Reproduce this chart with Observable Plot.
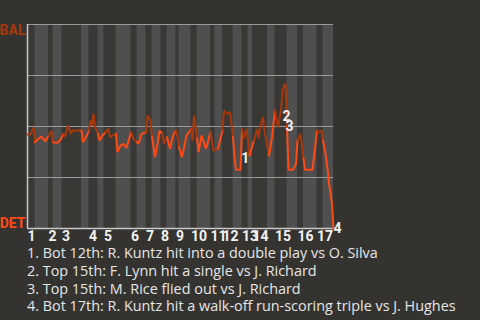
<!DOCTYPE html>
<html>
<head>
<meta charset="utf-8">
<script src="https://cdn.jsdelivr.net/npm/d3@7"></script>
<script src="https://cdn.jsdelivr.net/npm/@observablehq/plot@0.6"></script>
<style>
  html, body { margin: 0; padding: 0; background: #353330; }
  body { width: 480px; height: 320px; overflow: hidden; }
  #caption { font-family: "Open Sans", sans-serif; font-size: 14.4px; line-height: 17.8px; color: #e6e6e6; padding-left: 27px; margin-top: -2px; white-space: nowrap; }
</style>
</head>
<body>
<div id="chart"></div>
<div id="caption"></div>
<script>
// play index along the game and BAL win probability after each play
const plays = [0,2,4,5,9,12,14,16,17,20,22,24,25,27,29,30,36,37,39,41,
  42,43,44,45,47,48,50,52,54,55,59,60,62,64,66,69,71,73,74,76,
  79,80,82,83,85,87,88,90,91,93,95,97,99,100,101,103,106,109,110,111,
  113,114,116,119,122,124,127,130,131,133,135,137,138,139,141,142,143,144,146,148,
  151,153,154,155,157,158,161,163,165,167,169,170,171,172,173,174,177,179,180,182,
  184,185,190,191,193,194,196,197,199,200,201,203,204];
const balWinProb = [.461,.461,.494,.423,.451,.428,.456,.477,.423,.420,.435,.464,.451,.505,.464,.480,.480,.423,.448,.480,
  .529,.505,.562,.496,.464,.431,.456,.472,.489,.448,.464,.374,.407,.415,.395,.472,.435,.423,.415,.464,
  .472,.554,.529,.448,.350,.431,.480,.464,.415,.448,.391,.456,.480,.448,.398,.350,.456,.488,.431,.554,
  .441,.374,.456,.391,.472,.382,.391,.480,.578,.562,.570,.448,.350,.288,.288,.288,.488,.441,.488,.358,
  .431,.488,.441,.496,.545,.480,.358,.448,.578,.496,.578,.676,.701,.708,.496,.288,.288,.316,.431,.464,
  .343,.288,.288,.350,.480,.472,.480,.431,.350,.294,.221,.123,0];
const totalPlays = 204;

// first play of each half inning (top, bottom, top, bottom, ...)
const halfInningStarts = [0,5,14,17,23,36,41,47,51,59,69,73,79,83,89,93,99,101,109,113,
  122,125,130,137,143,147,150,160,165,173,180,184,193,197];
const innings = ["1","2","3","4","5","6","7","8","9","10","11","12","13","14","15","16","17"];

const teams = ["BAL", "DET"];
const teamValues = [1, 0];

const annoLabels = ["1", "2", "3", "4"];
const annoPlays = [142.5, 170, 172, 204];
const annoValues = [.343, .551, .5, 0];

const captions = [
  "1. Bot 12th: R. Kuntz hit into a double play vs O. Silva",
  "2. Top 15th: F. Lynn hit a single vs J. Richard",
  "3. Top 15th: M. Rice flied out vs J. Richard",
  "4. Bot 17th: R. Kuntz hit a walk-off run-scoring triple vs J. Hughes"
];

const BAL_COLOR = "#a8380c";
const DET_COLOR = "#ff4a14";

const halves = halfInningStarts.map((s, i) => ({
  x1: s,
  x2: i + 1 < halfInningStarts.length ? halfInningStarts[i + 1] : totalPlays,
  top: i % 2 === 0
}));
function halfOf(p) {
  let k = 0;
  for (let i = 0; i < halfInningStarts.length; i++) if (halfInningStarts[i] <= p) k = i;
  return k % 2 === 0 ? "top" : "bottom";
}
const points = plays.map((p, i) => ({p, v: balWinProb[i], half: halfOf(p)}));
const inningTicks = innings.map((label, i) => ({label, x: halfInningStarts[2 * i]}));
const teamData = teams.map((t, i) => ({t, v: teamValues[i]}));
const annos = annoLabels.map((l, i) => ({l, x: annoPlays[i], v: annoValues[i]}));

const font = "Roboto, 'Open Sans', sans-serif";

const chart = Plot.plot({
  width: 480,
  height: 246,
  marginLeft: 27,
  marginRight: 147,
  marginTop: 24,
  marginBottom: 18,
  style: {background: "#353330", fontFamily: font, overflow: "visible"},
  x: {domain: [0, totalPlays], axis: null},
  y: {domain: [0, 1], axis: null},
  color: {domain: ["top", "bottom"], range: [BAL_COLOR, DET_COLOR]},
  marks: [
    Plot.rect(halves.filter(d => d.top), {x1: "x1", x2: "x2", fill: "#3a3835"}),
    Plot.rect(halves.filter(d => !d.top), {x1: "x1", x2: "x2", fill: "#4f4f4f"}),
    Plot.ruleY([0.25, 0.5, 0.75, 1], {stroke: "#9a9a9a", strokeWidth: 1.2}),
    Plot.ruleY([0], {stroke: "#c8c8c8", strokeWidth: 1.5}),
    Plot.ruleX([0], {stroke: "#c8c8c8", strokeWidth: 1.5}),
    Plot.line(points, {x: "p", y: "v", z: null, stroke: "half", strokeWidth: 2, strokeLinejoin: "miter"}),
    Plot.text(teamData.filter(d => d.v === 1), {x: () => 0, y: "v", text: "t", textAnchor: "end", dx: -2, dy: 1,
      lineAnchor: "top", fill: BAL_COLOR, fontWeight: "bold", fontSize: 14}),
    Plot.text(teamData.filter(d => d.v === 0), {x: () => 0, y: "v", text: "t", textAnchor: "end", dx: -2, dy: -1,
      lineAnchor: "bottom", fill: DET_COLOR, fontWeight: "bold", fontSize: 14}),
    Plot.text(inningTicks, {x: "x", y: () => 0, text: "label", textAnchor: "start", lineAnchor: "top", dy: 2.5,
      fill: "#f2f2f2", fontWeight: "bold", fontSize: 14}),
    Plot.text(annos, {x: "x", y: "v", text: "l", textAnchor: "start", lineAnchor: "middle",
      fill: "#f2f2f2", fontWeight: "bold", fontSize: 14})
  ]
});
document.getElementById("chart").appendChild(chart);
const cap = document.getElementById("caption");
captions.forEach(c => { const d = document.createElement("div"); d.textContent = c; cap.appendChild(d); });
</script>
</body>
</html>
